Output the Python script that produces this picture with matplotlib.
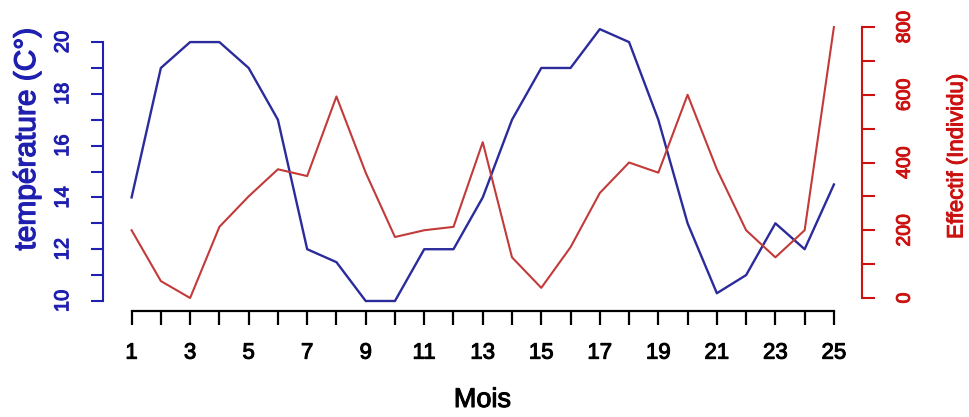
import matplotlib
matplotlib.use("Agg")
import matplotlib.pyplot as plt
import matplotlib.patheffects as pe

mois = list(range(1, 26))
temperature = [14, 19, 20, 20, 19, 17, 12, 11.5, 10, 10, 12, 12, 14, 17, 19, 19,
               20.5, 20, 17, 13, 10.3, 11, 13, 12, 14.5]
effectif = [200, 50, 0, 210, 300, 380, 360, 595, 370, 180, 200, 210, 460, 120, 30,
            150, 310, 400, 370, 600, 380, 200, 120, 200, 800]
x_labels = [str(m) if m % 2 == 1 else "" for m in mois]
temp_ticks = list(range(10, 21))
temp_labels = [str(t) if t % 2 == 0 else "" for t in temp_ticks]
eff_ticks = list(range(0, 900, 100))
eff_labels = [str(e) if e % 200 == 0 else "" for e in eff_ticks]

BLUE_LINE = "#2b2b9c"
RED_LINE = "#c23a3a"
BLUE_AX = "#1f1fb0"
RED_AX = "#cc1111"
REG = ["Liberation Sans", "DejaVu Sans"]


def thick(color, w=0.75):
    return [pe.withStroke(linewidth=w, foreground=color)]


W, H = 970, 417
fig = plt.figure(figsize=(W / 100, H / 100), dpi=100)
left, right, bottom, top = 103.5, 862, 310.7, 18
ax = fig.add_axes([left / W, 1 - bottom / H, (right - left) / W, (bottom - top) / H])
ax2 = ax.twinx()

ax.plot(mois, temperature, color=BLUE_LINE, lw=1.7)
ax2.plot(mois, effectif, color=RED_LINE, lw=1.5)

ax.set_xlim(0.04, 25.96)
ax.set_ylim(9.625, 20.93)
ax2.set_ylim(-37.5, 826.6)

for a in (ax, ax2):
    for s in a.spines.values():
        s.set_visible(False)
    a.patch.set_visible(False)

# bottom axis
ax.spines["bottom"].set_visible(True)
ax.spines["bottom"].set_bounds(1, 25)
ax.spines["bottom"].set_linewidth(1.6)
ax.spines["bottom"].set_color("black")
ax.set_xticks(mois)
ax.set_xticklabels(x_labels, fontfamily=REG, fontsize=16)
ax.tick_params(axis="x", direction="out", length=10, width=1.6, color="black",
               pad=13, labelcolor="black")
for t in ax.get_xticklabels():
    t.set_path_effects(thick("black"))

# left axis
ax.spines["left"].set_visible(True)
ax.spines["left"].set_bounds(10, 20)
ax.spines["left"].set_linewidth(1.5)
ax.spines["left"].set_color(BLUE_AX)
ax.set_yticks(temp_ticks)
ax.set_yticklabels(temp_labels, fontfamily=REG, fontsize=14.5, rotation=90, va="center")
ax.tick_params(axis="y", direction="out", length=8.5, width=1.5, color=BLUE_AX,
               pad=14, labelcolor=BLUE_AX)
for t in ax.get_yticklabels():
    t.set_path_effects(thick(BLUE_AX))

# right axis
ax2.spines["right"].set_visible(True)
ax2.spines["right"].set_bounds(0, 800)
ax2.spines["right"].set_linewidth(1.5)
ax2.spines["right"].set_color(RED_AX)
ax2.set_yticks(eff_ticks)
ax2.set_yticklabels(eff_labels, fontfamily=REG, fontsize=14, rotation=90, va="center")
ax2.tick_params(axis="y", direction="out", length=9, width=1.5, color=RED_AX,
                pad=16, labelcolor=RED_AX)
for t in ax2.get_yticklabels():
    t.set_path_effects(thick(RED_AX))

fig.text(27 / W, 1 - 139 / H, "température (C°)", rotation=90, ha="center", va="center",
         color=BLUE_AX, fontsize=21.5, family=REG, path_effects=thick(BLUE_AX, 0.9))
fig.text(957 / W, 1 - 156 / H, "Effectif (Individu)", rotation=90, ha="center", va="center",
         color=RED_AX, fontsize=16, family=REG, path_effects=thick(RED_AX))
fig.text(482.5 / W, 1 - 407 / H, "Mois", ha="center", va="baseline",
         color="black", fontsize=19.5, family=REG, path_effects=thick("black"))

fig.savefig("out.png", dpi=100, facecolor="white")
